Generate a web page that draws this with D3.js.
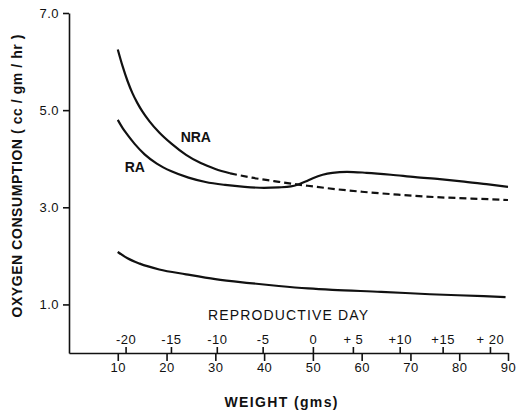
<!DOCTYPE html>
<html>
<head>
<meta charset="utf-8">
<script src="https://cdn.jsdelivr.net/npm/d3@7"></script>
<style>
  body { margin: 0; background: #fff; }
  text { font-family: 'Liberation Sans', 'DejaVu Sans', sans-serif; fill: #111; }
  .axis path, .axis line { stroke: #111; stroke-width: 1.6; }
  .axis text { font-size: 13px; letter-spacing: 0.5px; }
  .curve { fill: none; stroke: #111; stroke-width: 2.2; }
</style>
</head>
<body>
<div class="container"></div>
<script>
// NRA (non-reproductive) curve, solid up to nraDashFrom then dashed
const nraWeight = [10, 11, 12, 13, 14, 15, 16.5, 18.5, 21, 24, 27, 30, 33, 37.5, 42, 46, 50, 55, 60, 67.5, 75, 82.5, 90];
const nraValue = [6.25, 5.9, 5.6, 5.35, 5.15, 4.98, 4.77, 4.54, 4.31, 4.08, 3.91, 3.79, 3.7, 3.61, 3.54, 3.48, 3.43, 3.37, 3.32, 3.26, 3.21, 3.18, 3.15];
const nraDashFrom = 33;

// RA curve
const raWeight = [10, 11, 12, 13.5, 15.5, 18, 21, 24.5, 28, 32, 36, 40, 43, 45.5, 47, 48.5, 50, 52, 54, 57, 61, 66, 71, 76, 81, 86, 90];
const raValue = [4.8, 4.63, 4.49, 4.3, 4.09, 3.9, 3.74, 3.61, 3.52, 3.46, 3.42, 3.4, 3.41, 3.43, 3.47, 3.53, 3.6, 3.67, 3.71, 3.73, 3.71, 3.67, 3.62, 3.58, 3.53, 3.47, 3.42];

// lower curve
const lowWeight = [10, 12, 14.5, 18.5, 24, 30, 37, 43, 49, 54, 64, 74, 85, 89.5];
const lowValue = [2.08, 1.95, 1.84, 1.72, 1.62, 1.52, 1.44, 1.38, 1.33, 1.3, 1.26, 1.21, 1.17, 1.15];

// axes
const weightTicks = [10, 20, 30, 40, 50, 60, 70, 80, 90];
const dayLabels = ['-20', '-15', '-10', '-5', '0', '+ 5', '+10', '+15', '+ 20'];
const dayWeights = [11.6, 20.9, 30.3, 39.7, 50, 58.2, 67.8, 76.6, 86.3];
const valueTicks = [1, 3, 5, 7];

const margin = { top: 13, right: 13, bottom: 58, left: 69 };
const width = 521 - margin.left - margin.right;
const height = 411 - margin.top - margin.bottom;

const svg = d3
  .select('.container')
  .append('svg')
  .attr('width', 521)
  .attr('height', 411);

const graph = svg
  .append('g')
  .attr('transform', `translate(${margin.left}, ${margin.top})`);

const x = d3.scaleLinear().domain([0, 90]).range([0, width]);
const y = d3.scaleLinear().domain([0, 7]).range([height, 0]);

const line = d3
  .line()
  .x(d => x(d[0]))
  .y(d => y(d[1]))
  .curve(d3.curveMonotoneX);

const zip = (ws, vs) => ws.map((w, i) => [w, vs[i]]);

// y axis
graph
  .append('g')
  .attr('class', 'axis')
  .call(
    d3.axisLeft(y)
      .tickValues(valueTicks)
      .tickFormat(d3.format('.1f'))
      .tickSize(6)
      .tickSizeOuter(0)
      .tickPadding(4)
  );

// weight axis (bottom)
graph
  .append('g')
  .attr('class', 'axis')
  .attr('transform', `translate(0, ${height})`)
  .call(
    d3.axisBottom(x)
      .tickValues(weightTicks)
      .tickSize(8)
      .tickSizeOuter(0)
      .tickPadding(2)
  );

// reproductive day axis (on top of the same line)
const dayAxis = graph
  .append('g')
  .attr('class', 'axis')
  .attr('transform', `translate(0, ${height})`)
  .call(
    d3.axisTop(x)
      .tickValues(dayWeights)
      .tickFormat((d, i) => dayLabels[i])
      .tickSize(6)
      .tickPadding(3)
  );
dayAxis.select('.domain').remove();

// titles
svg
  .append('text')
  .attr('x', 288)
  .attr('y', 320)
  .attr('text-anchor', 'middle')
  .attr('font-size', 14)
  .attr('textLength', 160)
  .text('REPRODUCTIVE DAY');

svg
  .append('text')
  .attr('x', 281)
  .attr('y', 407)
  .attr('text-anchor', 'middle')
  .attr('font-size', 14)
  .attr('font-weight', 600)
  .attr('textLength', 113)
  .text('WEIGHT (gms)');

svg
  .append('text')
  .attr('transform', 'translate(22, 176) rotate(-90)')
  .attr('text-anchor', 'middle')
  .attr('font-size', 14)
  .attr('font-weight', 600)
  .attr('textLength', 283)
  .text('OXYGEN  CONSUMPTION  ( cc / gm / hr )');

// curves
const nra = zip(nraWeight, nraValue);
const split = nraWeight.indexOf(nraDashFrom);

graph
  .append('path')
  .attr('class', 'curve')
  .attr('d', line(nra.slice(0, split + 1)));

graph
  .append('path')
  .attr('class', 'curve')
  .attr('stroke-dasharray', '7 4')
  .attr('d', line(nra.slice(split)));

graph
  .append('path')
  .attr('class', 'curve')
  .attr('d', line(zip(raWeight, raValue)));

graph
  .append('path')
  .attr('class', 'curve')
  .attr('d', line(zip(lowWeight, lowValue)));

// curve labels
graph
  .append('text')
  .attr('x', x(26))
  .attr('y', y(4.45))
  .attr('dy', '0.35em')
  .attr('text-anchor', 'middle')
  .attr('font-size', 14)
  .attr('font-weight', 'bold')
  .text('NRA');

graph
  .append('text')
  .attr('x', x(13.5))
  .attr('y', y(3.83))
  .attr('dy', '0.35em')
  .attr('text-anchor', 'middle')
  .attr('font-size', 14)
  .attr('font-weight', 'bold')
  .text('RA');
</script>
</body>
</html>
